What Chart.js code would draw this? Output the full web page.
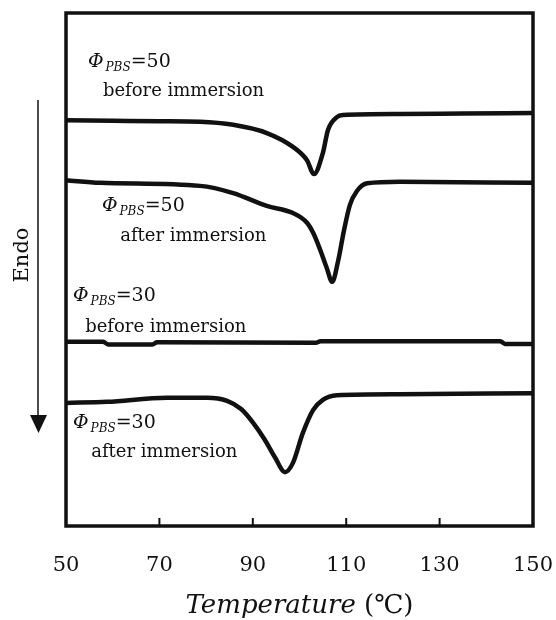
<!DOCTYPE html>
<html><head><meta charset="utf-8">
<script src="https://cdn.jsdelivr.net/npm/chart.js@4.4.1/dist/chart.umd.min.js"></script>
<style>html,body{margin:0;padding:0;background:#fff;}#wrap{width:556px;height:620px;}</style>
</head><body><div id="wrap"><canvas id="c" width="556" height="620"></canvas></div>
<script>
// Temperature (°C) and heat flow (arbitrary units, endo down)
const temp50Before = [50, 60, 70, 78.7, 85.8, 93.0, 98.6, 101.6, 103.1, 105.0, 106.1, 108.0, 109.3, 121.5, 135, 150];
const heat50Before = [79.1, 79.0, 78.9, 78.8, 78.2, 76.6, 73.9, 71.3, 68.6, 72.7, 77.2, 79.7, 80.1, 80.3, 80.4, 80.5];
const temp50After = [50, 57.3, 78.7, 85.8, 93.0, 98.6, 101.6, 103.0, 104.4, 105.8, 107.0, 108.3, 109.5, 110.8, 112.3, 114.5, 121.5, 150];
const heat50After = [67.4, 66.9, 66.3, 64.9, 62.4, 61.0, 59.1, 57.0, 53.9, 50.4, 47.6, 51.8, 57.5, 62.6, 65.3, 66.8, 67.1, 66.9];
const temp30Before = [50, 58, 59, 68.5, 69.5, 103.5, 104.5, 143, 144, 150];
const heat30Before = [35.9, 35.9, 35.4, 35.4, 35.8, 35.7, 36.0, 36.0, 35.5, 35.5];
const temp30After = [50, 58.8, 71.6, 80.2, 84.5, 87.5, 90.0, 92.5, 94.8, 96.9, 98.6, 100.7, 102.9, 105.0, 108.0, 121.5, 150];
const heat30After = [24.0, 24.2, 25.0, 25.0, 24.4, 22.8, 20.2, 16.9, 13.3, 10.5, 12.3, 18.1, 22.6, 24.6, 25.5, 25.7, 25.9];
const xTicks = [50, 70, 90, 110, 130, 150];
const labelValues = ["50", "50", "30", "30"];
const labelStates = ["before immersion", "after immersion", "before immersion", "after immersion"];
const labelAnchors = [[54.7, 89.5, 57.9, 83.8],[57.7, 61.4, 61.6, 55.6],[51.5, 43.9, 54.1, 37.8],[51.5, 19.1, 55.4, 13.5]];
const xTitleMain = 'Temperature';
const xTitleUnit = ' (℃)';
const yLabel = 'Endo';

const mk = (xs, ys) => xs.map((x, i) => ({x, y: ys[i]}));
const ds = (xs, ys) => ({data: mk(xs, ys), showLine: true, borderColor: '#111', borderWidth: 4.5, pointRadius: 0, cubicInterpolationMode: 'monotone', fill: false});

const SERIF = '"DejaVu Serif", "Liberation Serif", serif';

const deco = {
  id: 'deco',
  afterDraw(chart) {
    const ctx = chart.ctx, a = chart.chartArea, xs = chart.scales.x, ys = chart.scales.y;
    ctx.save();
    // frame
    ctx.strokeStyle = '#111'; ctx.lineWidth = 3.5;
    ctx.strokeRect(a.left, a.top, a.right - a.left, a.bottom - a.top);
    // inward ticks
    ctx.lineWidth = 2;
    xTicks.forEach(t => {
      if (t === 50 || t === 150) return;
      const px = xs.getPixelForValue(t);
      ctx.beginPath(); ctx.moveTo(px, a.bottom); ctx.lineTo(px, a.bottom - 8); ctx.stroke();
    });
    // curve labels
    ctx.fillStyle = '#111'; ctx.textBaseline = 'alphabetic'; ctx.textAlign = 'left';
    labelStates.forEach((st, i) => {
      const an = labelAnchors[i];
      let x = xs.getPixelForValue(an[0]), y = ys.getPixelForValue(an[1]);
      ctx.font = 'italic 19px ' + SERIF; ctx.fillText('Φ', x, y); x += ctx.measureText('Φ').width + 2;
      ctx.font = 'italic 12px ' + SERIF; ctx.fillText('PBS', x, y + 4); x += ctx.measureText('PBS').width;
      ctx.font = '19px ' + SERIF; ctx.fillText('=' + labelValues[i], x, y);
      ctx.font = '18px ' + SERIF;
      ctx.fillText(st, xs.getPixelForValue(an[2]), ys.getPixelForValue(an[3]));
    });
    // x title
    ctx.font = 'italic 26px ' + SERIF;
    const w1 = ctx.measureText(xTitleMain).width;
    ctx.font = '26px ' + SERIF;
    const w2 = ctx.measureText(xTitleUnit).width;
    let tx = (a.left + a.right) / 2 - (w1 + w2) / 2;
    ctx.font = 'italic 26px ' + SERIF; ctx.fillText(xTitleMain, tx, 613);
    ctx.font = '26px ' + SERIF; ctx.fillText(xTitleUnit, tx + w1, 613);
    // Endo arrow
    ctx.lineWidth = 1.5;
    ctx.beginPath(); ctx.moveTo(38, 100); ctx.lineTo(38, 416); ctx.stroke();
    ctx.beginPath(); ctx.moveTo(30, 415); ctx.lineTo(47, 415); ctx.lineTo(38.5, 433); ctx.closePath(); ctx.fill();
    ctx.translate(23, 255); ctx.rotate(-Math.PI / 2);
    ctx.font = '21px ' + SERIF; ctx.textAlign = 'center'; ctx.textBaseline = 'middle';
    ctx.fillText(yLabel, 0, 0);
    ctx.restore();
  }
};

new Chart(document.getElementById('c'), {
  type: 'scatter',
  data: {datasets: [ds(temp50Before, heat50Before), ds(temp50After, heat50After), ds(temp30Before, heat30Before), ds(temp30After, heat30After)]},
  plugins: [deco],
  options: {
    responsive: false, animation: false, devicePixelRatio: 1,
    layout: {padding: {left: 66, right: 23, top: 13, bottom: 0}},
    plugins: {legend: {display: false}, tooltip: {enabled: false}},
    scales: {
      x: {
        type: 'linear', min: 50, max: 150,
        afterBuildTicks: s => { s.ticks = xTicks.map(v => ({value: v})); },
        afterFit: s => { s.height = 94; s.paddingLeft = 0; s.paddingRight = 0; },
        grid: {display: false, drawTicks: false},
        border: {display: false},
        ticks: {color: '#111', font: {family: SERIF, size: 21}, padding: 27, maxRotation: 0},
        title: {display: false}
      },
      y: {type: 'linear', min: 0, max: 100, display: false}
    }
  }
});
</script></body></html>
